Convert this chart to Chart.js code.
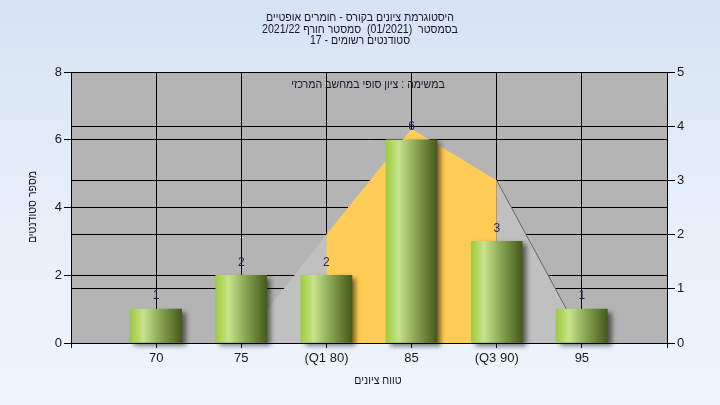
<!DOCTYPE html>
<html>
<head>
<meta charset="utf-8">
<script src="https://cdn.jsdelivr.net/npm/chart.js@4.4.1/dist/chart.umd.min.js"></script>
<style>
  html, body { margin:0; padding:0; }
  body { width:720px; height:405px; background: linear-gradient(180deg, #d5e3f3 0%, #e6eff9 50%, #eef5fd 100%); overflow:hidden; }
  #wrap { position:relative; width:720px; height:405px; }
</style>
</head>
<body>
<div id="wrap"><canvas id="c" width="720" height="405"></canvas></div>
<script>
// ---- data ----
const categories = ['', '70', '75', '(Q1 80)', '85', '(Q3 90)', '95', ''];
const studentCounts = [null, 1, 2, 2, 6, 3, 1, null];
const curveValues = [null, 0, 0, 2.0, 3.95, 3.0, 0.1, null];
const iqrValues = [null, null, null, 2.0, 3.95, 3.0, null, null];
const leftTicks = [0, 2, 4, 6, 8];
const rightTicks = [0, 1, 2, 3, 4, 5];
const titleLines = [
  'היסטוגרמת ציונים בקורס - חומרים אופטיים',
  'בסמסטר  (01/2021)  סמסטר חורף 2021/22',
  'סטודנטים רשומים - 17'
];
const subTitle = 'במשימה : ציון סופי במחשב המרכזי';
const xTitle = 'טווח ציונים';
const yTitle = 'מספר סטודנטים';

const FONT = "'Liberation Sans', Arial, 'DejaVu Sans', sans-serif";

const bgPlugin = {
  id: 'plotBg',
  beforeDraw(chart) {
    const { ctx, chartArea: a } = chart;
    ctx.save();
    ctx.fillStyle = '#b4b4b4';
    ctx.fillRect(a.left, a.top, a.right - a.left, a.bottom - a.top);
    ctx.restore();
  }
};

const shadowPlugin = {
  id: 'barShadow',
  beforeDatasetDraw(chart, args) {
    if (args.meta.type === 'bar') {
      const ctx = chart.ctx;
      ctx.save();
      ctx.shadowColor = 'rgba(0,0,0,0.55)';
      ctx.shadowBlur = 5;
      ctx.shadowOffsetX = 4;
      ctx.shadowOffsetY = 3;
    }
  },
  afterDatasetDraw(chart, args) {
    if (args.meta.type === 'bar') chart.ctx.restore();
  }
};

const textPlugin = {
  id: 'texts',
  afterDatasetsDraw(chart) {
    const ctx = chart.ctx;
    const meta = chart.getDatasetMeta(0);
    ctx.save();
    ctx.font = '12px ' + FONT;
    ctx.fillStyle = '#1e2850';
    ctx.textAlign = 'center';
    ctx.textBaseline = 'middle';
    meta.data.forEach((el, i) => {
      const v = studentCounts[i];
      if (v === null || v === undefined) return;
      ctx.fillText(String(v), el.x, el.y - 13);
    });
    ctx.restore();
  },
  afterDraw(chart) {
    const ctx = chart.ctx;
    ctx.save();
    ctx.fillStyle = '#1a1528';
    ctx.textAlign = 'center';
    ctx.textBaseline = 'middle';
    ctx.font = '12px ' + FONT;
    const f = Math.min(1, 188 / ctx.measureText(titleLines[0]).width);
    const put = (t, x, y) => {
      ctx.save();
      ctx.translate(x, y);
      ctx.scale(f, 1);
      ctx.fillText(t, 0, 0);
      ctx.restore();
    };
    const ys = [18, 29.5, 41];
    titleLines.forEach((t, i) => put(t, 360, ys[i]));
    put(subTitle, 368, 85);
    put(xTitle, 378, 381);
    ctx.save();
    ctx.translate(33, 207);
    ctx.rotate(-Math.PI / 2);
    ctx.scale(f, 1);
    ctx.fillText(yTitle, 0, 0);
    ctx.restore();
    ctx.restore();
  }
};

function barGradient(c) {
  const chart = c.chart;
  if (!chart.chartArea) return '#8bb040';
  const x = chart.scales.x.getPixelForValue(c.dataIndex);
  const g = chart.ctx.createLinearGradient(x - 25.5, 0, x + 25.5, 0);
  g.addColorStop(0, '#9dcc3c');
  g.addColorStop(0.25, '#c7e38c');
  g.addColorStop(0.6, '#86a250');
  g.addColorStop(1, '#455a1c');
  return g;
}

new Chart(document.getElementById('c'), {
  data: {
    labels: categories,
    datasets: [
      {
        type: 'bar',
        data: studentCounts,
        yAxisID: 'y',
        backgroundColor: barGradient,
        borderWidth: 0,
        barThickness: 51,
        order: 0,
        clip: false
      },
      {
        type: 'line',
        data: iqrValues,
        yAxisID: 'y2',
        fill: 'origin',
        backgroundColor: '#ffcc55',
        borderWidth: 0,
        borderColor: 'rgba(0,0,0,0)',
        pointRadius: 0,
        tension: 0,
        spanGaps: false,
        order: 1
      },
      {
        type: 'line',
        data: curveValues,
        yAxisID: 'y2',
        fill: 'origin',
        backgroundColor: '#c0c0c0',
        borderWidth: 1,
        borderColor: 'rgba(0,0,0,0)',
        segment: {
          borderColor: s => (s.p0DataIndex === 5 ? '#666666' : 'rgba(0,0,0,0)')
        },
        pointRadius: 0,
        tension: 0,
        spanGaps: false,
        order: 2
      }
    ]
  },
  options: {
    responsive: false,
    animation: false,
    events: [],
    layout: { padding: { left: 0, right: 0, top: 72, bottom: 0 } },
    plugins: { legend: { display: false }, tooltip: { enabled: false }, title: { display: false } },
    scales: {
      x: {
        type: 'category',
        offset: false,
        grid: { color: '#000', lineWidth: 1, drawTicks: true, tickLength: 5, offset: false },
        border: { color: '#000', width: 1 },
        ticks: { color: '#1a1a1a', font: { size: 13, family: FONT }, padding: 3, autoSkip: false, maxRotation: 0 },
        afterFit(s) { s.height = 62; }
      },
      y: {
        position: 'left',
        min: 0, max: 8,
        afterBuildTicks(s) { s.ticks = leftTicks.map(v => ({ value: v })); },
        grid: { color: '#000', lineWidth: 1, tickLength: 7 },
        border: { color: '#000', width: 1 },
        ticks: { color: '#1a1a1a', font: { size: 13, family: FONT }, padding: 2 },
        afterFit(s) { s.width = 71; }
      },
      y2: {
        position: 'right',
        min: 0, max: 5,
        afterBuildTicks(s) { s.ticks = rightTicks.map(v => ({ value: v })); },
        grid: { color: '#000', lineWidth: 1, tickLength: 8 },
        border: { color: '#000', width: 1 },
        ticks: { color: '#1a1a1a', font: { size: 13, family: FONT }, padding: 2 },
        afterFit(s) { s.width = 53; }
      }
    }
  },
  plugins: [bgPlugin, shadowPlugin, textPlugin]
});
</script>
</body>
</html>
